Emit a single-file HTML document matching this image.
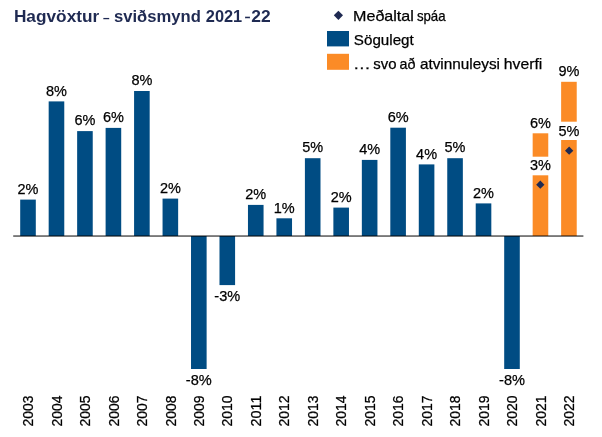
<!DOCTYPE html>
<html lang="is"><head><meta charset="utf-8"><title>Hagvöxtur - sviðsmynd 2021-22</title>
<style>
html,body{margin:0;padding:0;background:#fff;}
body{width:602px;height:437px;overflow:hidden;}
svg{display:block;}
text{font-family:"Liberation Sans",sans-serif;}
.dl{font-size:15.3px;fill:#000;stroke:#000;stroke-width:0.25px;text-anchor:middle;}
.yr{font-size:15.4px;fill:#000;stroke:#000;stroke-width:0.25px;text-anchor:start;}
.lg{font-size:15px;fill:#000;stroke:#000;stroke-width:0.25px;}
.ttl{font-size:17.2px;font-weight:bold;fill:#1f2a52;}
.dash{font-size:16.5px;fill:#1f2a52;}
.dash2{font-size:16.5px;fill:#1f2a52;stroke:#1f2a52;stroke-width:0.2px;}
</style></head><body>
<svg width="602" height="437" viewBox="0 0 602 437">
<rect width="602" height="437" fill="#fff"/>
<text><tspan class="ttl" x="13.92" y="22.30" textLength="85.32" lengthAdjust="spacingAndGlyphs">Hagvöxtur</tspan> <tspan class="dash" x="102.35" y="22.50" textLength="8.02" lengthAdjust="spacingAndGlyphs">-</tspan> <tspan class="ttl" x="113.98" y="22.30" textLength="86.88" lengthAdjust="spacingAndGlyphs">sviðsmynd</tspan> <tspan class="ttl" x="205.79" y="22.30" textLength="36.42" lengthAdjust="spacingAndGlyphs">2021</tspan><tspan class="dash2" x="244.39" y="22.20" textLength="6.52" lengthAdjust="spacingAndGlyphs">-</tspan><tspan class="ttl" x="251.26" y="22.30" textLength="19.38" lengthAdjust="spacingAndGlyphs">22</tspan></text>
<text><tspan class="lg" x="353.04" y="20.90" textLength="60.82" lengthAdjust="spacingAndGlyphs">Meðaltal</tspan> <tspan class="lg" x="416.89" y="20.90" textLength="28.72" lengthAdjust="spacingAndGlyphs">spáa</tspan></text>
<text><tspan class="lg" x="353.83" y="44.60" textLength="59.92" lengthAdjust="spacingAndGlyphs">Sögulegt</tspan></text>
<text><tspan class="lg" x="353.08" y="68.70" textLength="17.73" lengthAdjust="spacingAndGlyphs">…</tspan> <tspan class="lg" x="373.37" y="68.70" textLength="23.24" lengthAdjust="spacingAndGlyphs">svo</tspan> <tspan class="lg" x="399.55" y="68.70" textLength="15.90" lengthAdjust="spacingAndGlyphs">að</tspan> <tspan class="lg" x="419.92" y="68.70" textLength="80.09" lengthAdjust="spacingAndGlyphs">atvinnuleysi</tspan> <tspan class="lg" x="503.82" y="68.70" textLength="38.52" lengthAdjust="spacingAndGlyphs">hverfi</tspan></text>
<path d="M338.4 10.7 L343 15.3 L338.4 19.9 L333.8 15.3 Z" fill="#1f2a52"/>
<rect x="327" y="31" width="22" height="15.4" fill="#004c83"/>
<rect x="327" y="53.8" width="22" height="16" fill="#fb8b26"/>
<rect x="20.20" y="199.60" width="15.60" height="36.40" fill="#004c83"/>
<text class="dl" x="28.00" y="193.80" textLength="20.95" lengthAdjust="spacingAndGlyphs">2%</text>
<rect x="48.67" y="101.40" width="15.60" height="134.60" fill="#004c83"/>
<text class="dl" x="56.47" y="95.60" textLength="20.95" lengthAdjust="spacingAndGlyphs">8%</text>
<rect x="77.14" y="131.10" width="15.60" height="104.90" fill="#004c83"/>
<text class="dl" x="84.94" y="125.30" textLength="20.95" lengthAdjust="spacingAndGlyphs">6%</text>
<rect x="105.61" y="127.90" width="15.60" height="108.10" fill="#004c83"/>
<text class="dl" x="113.41" y="122.10" textLength="20.95" lengthAdjust="spacingAndGlyphs">6%</text>
<rect x="134.08" y="91.00" width="15.60" height="145.00" fill="#004c83"/>
<text class="dl" x="141.88" y="85.20" textLength="20.95" lengthAdjust="spacingAndGlyphs">8%</text>
<rect x="162.55" y="198.60" width="15.60" height="37.40" fill="#004c83"/>
<text class="dl" x="170.35" y="192.80" textLength="20.95" lengthAdjust="spacingAndGlyphs">2%</text>
<rect x="191.02" y="236.00" width="15.60" height="133.00" fill="#004c83"/>
<text class="dl" x="198.82" y="385.00" textLength="25.9" lengthAdjust="spacingAndGlyphs">-8%</text>
<rect x="219.49" y="236.00" width="15.60" height="49.10" fill="#004c83"/>
<text class="dl" x="227.29" y="300.80" textLength="25.9" lengthAdjust="spacingAndGlyphs">-3%</text>
<rect x="247.96" y="204.90" width="15.60" height="31.10" fill="#004c83"/>
<text class="dl" x="255.76" y="199.10" textLength="20.95" lengthAdjust="spacingAndGlyphs">2%</text>
<rect x="276.43" y="218.30" width="15.60" height="17.70" fill="#004c83"/>
<text class="dl" x="284.23" y="212.50" textLength="20.95" lengthAdjust="spacingAndGlyphs">1%</text>
<rect x="304.90" y="158.20" width="15.60" height="77.80" fill="#004c83"/>
<text class="dl" x="312.70" y="152.40" textLength="20.95" lengthAdjust="spacingAndGlyphs">5%</text>
<rect x="333.37" y="207.60" width="15.60" height="28.40" fill="#004c83"/>
<text class="dl" x="341.17" y="201.80" textLength="20.95" lengthAdjust="spacingAndGlyphs">2%</text>
<rect x="361.84" y="159.90" width="15.60" height="76.10" fill="#004c83"/>
<text class="dl" x="369.64" y="154.10" textLength="20.95" lengthAdjust="spacingAndGlyphs">4%</text>
<rect x="390.31" y="127.70" width="15.60" height="108.30" fill="#004c83"/>
<text class="dl" x="398.11" y="121.90" textLength="20.95" lengthAdjust="spacingAndGlyphs">6%</text>
<rect x="418.78" y="164.40" width="15.60" height="71.60" fill="#004c83"/>
<text class="dl" x="426.58" y="158.60" textLength="20.95" lengthAdjust="spacingAndGlyphs">4%</text>
<rect x="447.25" y="158.20" width="15.60" height="77.80" fill="#004c83"/>
<text class="dl" x="455.05" y="152.40" textLength="20.95" lengthAdjust="spacingAndGlyphs">5%</text>
<rect x="475.72" y="203.40" width="15.60" height="32.60" fill="#004c83"/>
<text class="dl" x="483.52" y="197.60" textLength="20.95" lengthAdjust="spacingAndGlyphs">2%</text>
<rect x="504.19" y="236.00" width="15.60" height="133.00" fill="#004c83"/>
<text class="dl" x="511.99" y="384.60" textLength="25.9" lengthAdjust="spacingAndGlyphs">-8%</text>
<rect x="532.66" y="133.30" width="15.60" height="102.70" fill="#fb8b26"/>
<rect x="561.13" y="81.80" width="15.60" height="154.20" fill="#fb8b26"/>
<rect x="530.46" y="156.7" width="20" height="18.6" fill="#fff"/>
<rect x="558.93" y="121.7" width="20" height="18.3" fill="#fff"/>
<text class="dl" x="540.46" y="127.5" textLength="20.95" lengthAdjust="spacingAndGlyphs">6%</text>
<text class="dl" x="540.46" y="170.1" textLength="20.95" lengthAdjust="spacingAndGlyphs">3%</text>
<text class="dl" x="568.93" y="75.5" textLength="20.95" lengthAdjust="spacingAndGlyphs">9%</text>
<text class="dl" x="568.93" y="135.6" textLength="20.95" lengthAdjust="spacingAndGlyphs">5%</text>
<path d="M540.30 180.5 l4.15 4.15 l-4.15 4.15 l-4.15 -4.15 Z" fill="#1f2a52"/>
<path d="M569.15 146.55 l4.15 4.15 l-4.15 4.15 l-4.15 -4.15 Z" fill="#1f2a52"/>
<rect x="13.2" y="235.3" width="570.2" height="1.5" fill="#000" fill-opacity="0.66"/>
<text class="yr" transform="translate(33.20 426.5) rotate(-90)" textLength="30.9" lengthAdjust="spacingAndGlyphs">2003</text>
<text class="yr" transform="translate(61.67 426.5) rotate(-90)" textLength="30.9" lengthAdjust="spacingAndGlyphs">2004</text>
<text class="yr" transform="translate(90.14 426.5) rotate(-90)" textLength="30.9" lengthAdjust="spacingAndGlyphs">2005</text>
<text class="yr" transform="translate(118.61 426.5) rotate(-90)" textLength="30.9" lengthAdjust="spacingAndGlyphs">2006</text>
<text class="yr" transform="translate(147.08 426.5) rotate(-90)" textLength="30.9" lengthAdjust="spacingAndGlyphs">2007</text>
<text class="yr" transform="translate(175.55 426.5) rotate(-90)" textLength="30.9" lengthAdjust="spacingAndGlyphs">2008</text>
<text class="yr" transform="translate(204.02 426.5) rotate(-90)" textLength="30.9" lengthAdjust="spacingAndGlyphs">2009</text>
<text class="yr" transform="translate(232.49 426.5) rotate(-90)" textLength="30.9" lengthAdjust="spacingAndGlyphs">2010</text>
<text class="yr" transform="translate(260.96 426.5) rotate(-90)" textLength="30.9" lengthAdjust="spacingAndGlyphs">2011</text>
<text class="yr" transform="translate(289.43 426.5) rotate(-90)" textLength="30.9" lengthAdjust="spacingAndGlyphs">2012</text>
<text class="yr" transform="translate(317.90 426.5) rotate(-90)" textLength="30.9" lengthAdjust="spacingAndGlyphs">2013</text>
<text class="yr" transform="translate(346.37 426.5) rotate(-90)" textLength="30.9" lengthAdjust="spacingAndGlyphs">2014</text>
<text class="yr" transform="translate(374.84 426.5) rotate(-90)" textLength="30.9" lengthAdjust="spacingAndGlyphs">2015</text>
<text class="yr" transform="translate(403.31 426.5) rotate(-90)" textLength="30.9" lengthAdjust="spacingAndGlyphs">2016</text>
<text class="yr" transform="translate(431.78 426.5) rotate(-90)" textLength="30.9" lengthAdjust="spacingAndGlyphs">2017</text>
<text class="yr" transform="translate(460.25 426.5) rotate(-90)" textLength="30.9" lengthAdjust="spacingAndGlyphs">2018</text>
<text class="yr" transform="translate(488.72 426.5) rotate(-90)" textLength="30.9" lengthAdjust="spacingAndGlyphs">2019</text>
<text class="yr" transform="translate(517.19 426.5) rotate(-90)" textLength="30.9" lengthAdjust="spacingAndGlyphs">2020</text>
<text class="yr" transform="translate(545.66 426.5) rotate(-90)" textLength="30.9" lengthAdjust="spacingAndGlyphs">2021</text>
<text class="yr" transform="translate(574.13 426.5) rotate(-90)" textLength="30.9" lengthAdjust="spacingAndGlyphs">2022</text>
</svg>
</body></html>
